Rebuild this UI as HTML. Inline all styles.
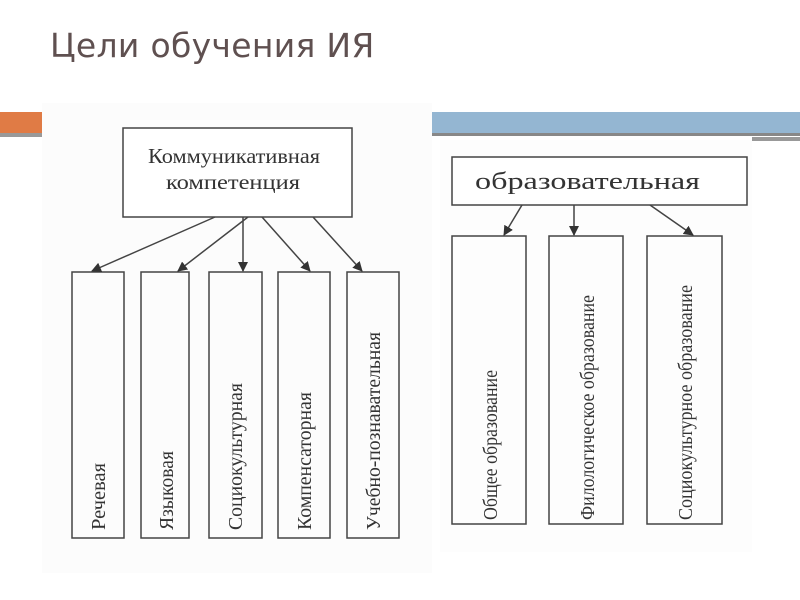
<!DOCTYPE html>
<html><head><meta charset="utf-8"><style>
body{margin:0;width:800px;height:600px;background:#fff;position:relative;overflow:hidden;font-family:"Liberation Serif",serif}
.t{position:absolute;left:50px;top:26px;font-family:"DejaVu Sans","Liberation Sans",sans-serif;font-size:33px;color:#5f5050;white-space:nowrap;letter-spacing:0.3px}
</style></head><body>
<div class="t">Цели обучения ИЯ</div>
<div style="position:absolute;left:0;top:112px;width:42px;height:21px;background:#e07b45"></div>
<div style="position:absolute;left:0;top:133px;width:42px;height:4px;background:#999"></div>
<div style="position:absolute;left:42px;top:103px;width:390px;height:470px;background:#fcfcfc"></div>
<div style="position:absolute;left:432px;top:112px;width:368px;height:21px;background:#94b6d2"></div>
<div style="position:absolute;left:432px;top:133px;width:368px;height:3px;background:#888"></div>
<div style="position:absolute;left:440px;top:140px;width:312px;height:412px;background:#fdfdfd"></div>
<div style="position:absolute;left:752px;top:137px;width:48px;height:4px;background:#999"></div>
<svg width="800" height="600" style="position:absolute;left:0;top:0" font-family="Liberation Serif, serif" fill="none" stroke="#444" stroke-width="1.5">
<defs><marker id="a" markerWidth="10" markerHeight="10" refX="9" refY="5" orient="auto" markerUnits="userSpaceOnUse"><path d="M0,0 L10,5 L0,10z" fill="#333" stroke="none"/></marker></defs>
<rect x="123" y="128" width="229" height="89" fill="#fff"/>
<rect x="72" y="272" width="52" height="266"/>
<rect x="141" y="272" width="48" height="266"/>
<rect x="209" y="272" width="53" height="266"/>
<rect x="278" y="272" width="52" height="266"/>
<rect x="347" y="272" width="52" height="266"/>
<line x1="215" y1="217" x2="92" y2="271" marker-end="url(#a)"/>
<line x1="248" y1="217" x2="178" y2="271" marker-end="url(#a)"/>
<line x1="243" y1="217" x2="243" y2="271" marker-end="url(#a)"/>
<line x1="262" y1="217" x2="310" y2="271" marker-end="url(#a)"/>
<line x1="313" y1="217" x2="362" y2="271" marker-end="url(#a)"/>
<rect x="452" y="157" width="295" height="48" fill="#fff"/>
<rect x="452" y="236" width="74" height="288"/>
<rect x="549" y="236" width="74" height="288"/>
<rect x="647" y="236" width="75" height="288"/>
<line x1="522" y1="205" x2="504" y2="235" marker-end="url(#a)"/>
<line x1="574" y1="205" x2="574" y2="235" marker-end="url(#a)"/>
<line x1="650" y1="205" x2="693" y2="235" marker-end="url(#a)"/>
<g fill="#333" stroke="none" font-size="21">
<text x="148" y="163" textLength="172" lengthAdjust="spacingAndGlyphs">Коммуникативная</text>
<text x="166" y="189" textLength="134" lengthAdjust="spacingAndGlyphs">компетенция</text>
<text x="475" y="189" font-size="24" textLength="225" lengthAdjust="spacingAndGlyphs">образовательная</text>
<g font-size="20">
<text transform="translate(105,530) rotate(-90)" textLength="67" lengthAdjust="spacingAndGlyphs">Речевая</text>
<text transform="translate(173,530) rotate(-90)" textLength="79" lengthAdjust="spacingAndGlyphs">Языковая</text>
<text transform="translate(242,530) rotate(-90)" textLength="147" lengthAdjust="spacingAndGlyphs">Социокультурная</text>
<text transform="translate(311,530) rotate(-90)" textLength="138" lengthAdjust="spacingAndGlyphs">Компенсаторная</text>
<text transform="translate(380,530) rotate(-90)" textLength="198" lengthAdjust="spacingAndGlyphs">Учебно-познавательная</text>
<text transform="translate(497,520) rotate(-90)" textLength="150" lengthAdjust="spacingAndGlyphs">Общее образование</text>
<text transform="translate(594,520) rotate(-90)" textLength="225" lengthAdjust="spacingAndGlyphs">Филологическое образование</text>
<text transform="translate(692,520) rotate(-90)" textLength="235" lengthAdjust="spacingAndGlyphs">Социокультурное образование</text>
</g></g>
</svg>
</body></html>
